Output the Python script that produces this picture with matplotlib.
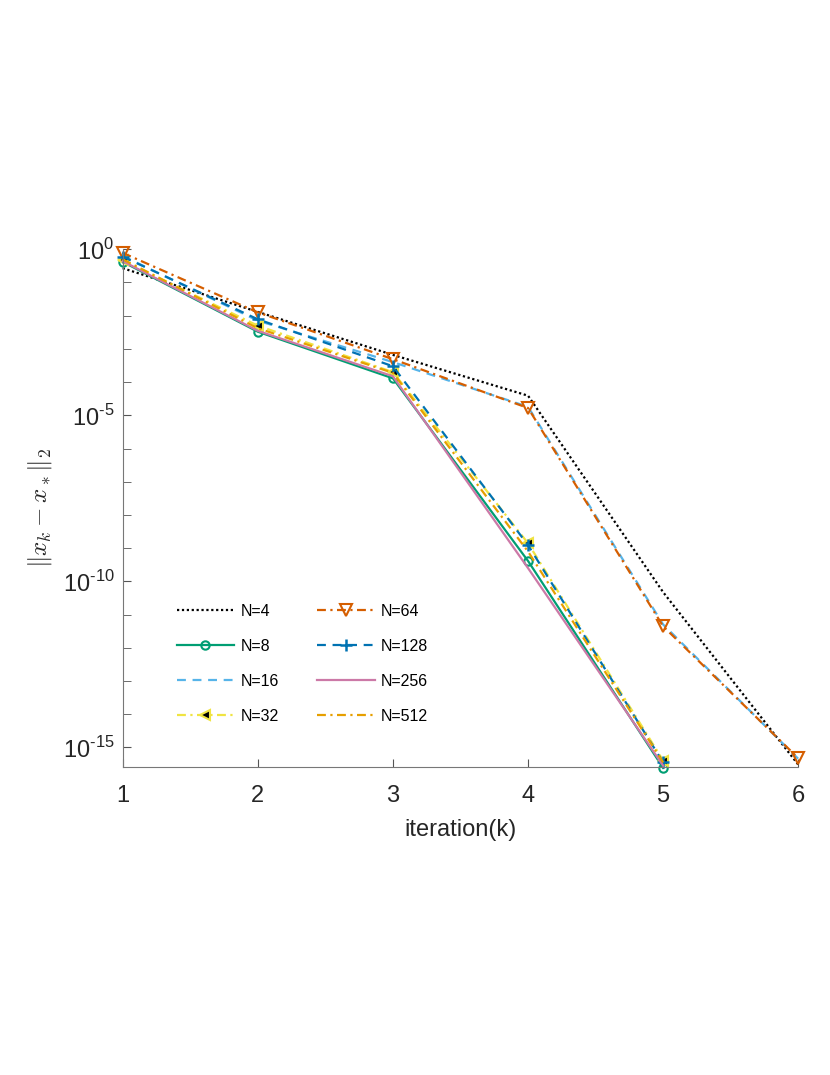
import math

import matplotlib
matplotlib.use("Agg")
from matplotlib import pyplot as plt
from matplotlib import ticker

plt.rcParams["font.family"] = ["Liberation Sans", "DejaVu Sans"]
plt.rcParams["mathtext.fontset"] = "custom"
plt.rcParams["mathtext.rm"] = "Liberation Sans"
plt.rcParams["axes.unicode_minus"] = False

iterations = [1, 2, 3, 4, 5, 6]

# error norms
err_n4 = [2.7e-1, 1.3e-2, 6.6e-4, 3.9e-5, 4.7e-11, 3.0e-16]
err_n8 = [4.2e-1, 3.3e-3, 1.3e-4, 4.1e-10, 2.4e-16]
err_n16 = [6.3e-1, 7.1e-3, 4.0e-4, 1.8e-5, 5.0e-12, 4.5e-16]
err_n32 = [4.6e-1, 5.0e-3, 2.0e-4, 1.4e-9, 4.0e-16]
err_n64 = [7.8e-1, 1.26e-2, 4.9e-4, 1.66e-5, 4.4e-12, 4.7e-16]
err_n128 = [6.0e-1, 7.8e-3, 3.0e-4, 1.23e-9, 3.5e-16]
err_n256 = [4.4e-1, 3.5e-3, 1.5e-4, 2.5e-10, 2.8e-16]
err_n512 = [5.0e-1, 4.2e-3, 1.9e-4, 7.9e-10, 3.5e-16]

labels = ["N=4", "N=8", "N=16", "N=32", "N=64", "N=128", "N=256", "N=512"]
ytick_exponents = [0, -5, -10, -15]

fig = plt.figure(figsize=(8.3, 10.75), dpi=100)
ax = fig.add_axes([0.1478, 0.2862, 0.8140, 0.4819])

lw = 1.6
dot = (0, (1, 1.2))
dash = (0, (4, 3))
dashdot = (0, (4, 2, 1, 2))

series = [
    (err_n4, dict(color="black", linestyle=dot)),
    (err_n8, dict(color="#009E73", linestyle="-", marker="o", mfc="none", ms=6, mew=1.5)),
    (err_n16, dict(color="#56B4E9", linestyle=dash)),
    (err_n32, dict(color="#F0E442", linestyle=dashdot, marker="<", mfc="black", ms=7, mew=1.5)),
    (err_n64, dict(color="#D55E00", linestyle=dashdot, marker="v", mfc="none", ms=8, mew=1.5)),
    (err_n128, dict(color="#0072B2", linestyle=dash, marker="+", ms=9, mew=1.8)),
    (err_n256, dict(color="#CC79A7", linestyle="-")),
    (err_n512, dict(color="#E69F00", linestyle=dashdot)),
]

# N=16 goes under N=64, as in the original
order = [0, 2, 1, 3, 4, 5, 6, 7]
handles = {}
for i in order:
    vals, style = series[i]
    (h,) = ax.plot(iterations[: len(vals)], vals, lw=lw, clip_on=False, label=labels[i], **style)
    handles[i] = h


def exp_label(value, pos):
    """MATLAB style 10^k label with a short hyphen."""
    k = int(round(math.log10(value)))
    sign = "\u2010" if k < 0 else ""
    return rf"$10^{{{sign}{abs(k)}}}$"


ax.set_yscale("log")
ax.set_xlim(1, 6)
ax.set_ylim(2.5e-16, 1)
ax.set_xticks(iterations)
ax.set_yticks([10.0 ** k for k in ytick_exponents])
ax.yaxis.set_major_formatter(ticker.FuncFormatter(exp_label))
ax.set_yticks([10.0 ** -k for k in range(16)], minor=True)
ax.yaxis.set_minor_formatter(ticker.NullFormatter())
ax.tick_params(axis="both", which="both", direction="in", labelsize=17, color="#555555",
               labelcolor="#262626")
ax.tick_params(axis="both", which="major", length=6)
ax.tick_params(axis="y", which="both", pad=6)
ax.tick_params(axis="x", which="major", pad=13)
ax.tick_params(axis="y", which="minor", length=6)
ax.tick_params(axis="x", which="minor", length=0)

for side in ["top", "right"]:
    ax.spines[side].set_visible(False)
for side in ["left", "bottom"]:
    ax.spines[side].set_color("#777777")
    ax.spines[side].set_linewidth(0.8)

ax.set_xlabel("iteration(k)", fontsize=17, color="#262626", labelpad=8)
ax.set_ylabel(r"$\|x_k - x_*\|_2$", fontsize=18, color="#262626", math_fontfamily="cm", labelpad=6)

# legend: first column N=4..N=32, second column N=64..N=512
ax.legend(
    [handles[i] for i in range(8)],
    labels,
    ncol=2,
    loc="upper left",
    bbox_to_anchor=(0.068, 0.331),
    frameon=False,
    fontsize=11.5,
    borderpad=0,
    labelspacing=1.25,
    handlelength=3.6,
    handletextpad=0.4,
    columnspacing=2.4,
)

fig.savefig("out.png", dpi=100)
